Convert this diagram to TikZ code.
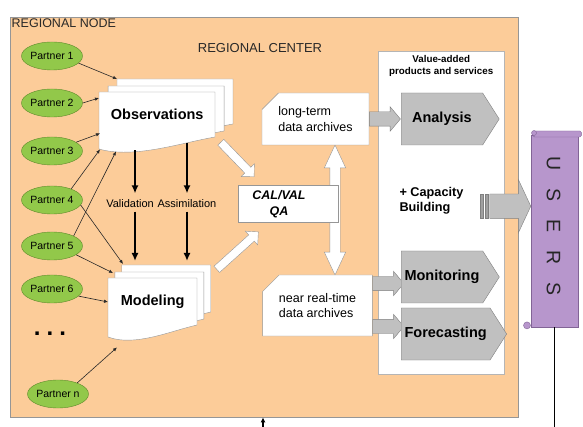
\documentclass[tikz,border=0pt]{standalone}
\usepackage{fontspec}
\setmainfont{Liberation Sans}
\usepackage{tikz}
\usetikzlibrary{arrows.meta, calc, positioning, shapes.arrows, shapes.geometric, shapes.misc, shapes.symbols}
\usepackage{xcolor}
\definecolor{NodeOrange}{RGB}{252,204,153}
\definecolor{FrameGray}{RGB}{150,150,150}
\definecolor{PartnerGreen}{RGB}{146,200,74}
\definecolor{PartnerEdge}{RGB}{94,138,42}
\definecolor{ProductGray}{RGB}{192,192,192}
\definecolor{ProductEdge}{RGB}{128,128,128}
\definecolor{StripeGray}{RGB}{160,160,160}
\definecolor{UserPurple}{RGB}{183,150,204}
\definecolor{UserEdge}{RGB}{130,100,150}
\definecolor{InkGray}{RGB}{40,40,40}
\newcommand{\setfs}[2]{\fontsize{#1}{#2}\selectfont}
% one page of a document stack, wavy bottom edge
\newcommand{\docsheet}[4]{%
  \draw [sheet] (#1,#2) -- ++(#3,0) -- ++(0,#4)
    .. controls +(-0.3*#3,6) and +(0.3*#3,10) .. ++(-#3,12) -- cycle;%
}
% three pages, the front one carries the named node
\newcommand{\docstack}[6]{%
  \docsheet{#2+0.155*#4}{#3-13}{#4}{#5}
  \docsheet{#2+0.078*#4}{#3-6}{#4}{#5}
  \docsheet{#2}{#3}{#4}{#5}
  \node [doctitle, minimum width=#4, minimum height=#5, anchor=north west] (#1) at (#2,#3) {#6};%
}
\tikzset{%
  region/.style={%
    rectangle,%
    draw=FrameGray,%
    fill=NodeOrange,%
  },
  heading/.style={%
    text=InkGray,%
    font={\setfs{12.5}{15}},%
  },
  panel/.style={%
    rectangle,%
    draw=FrameGray!70,%
    fill=white,%
  },
  partner/.style={%
    ellipse,%
    draw=PartnerEdge,%
    fill=PartnerGreen,%
    minimum width=56,%
    minimum height=28,%
    inner sep=0,%
    font={\setfs{10.5}{12}},%
  },
  sheet/.style={%
    draw=FrameGray,%
    fill=white,%
    line join=round,%
  },
  doctitle/.style={%
    inner sep=0,%
    font={\bfseries\setfs{14.5}{17}},%
  },
  midtext/.style={%
    font={\setfs{11}{13}},%
  },
  boldtext/.style={%
    font={\bfseries\setfs{12.7}{15}},%
    align=left,%
  },
  feed/.style={%
    single arrow,%
    draw=FrameGray,%
    fill=white,%
    inner xsep=0,%
    inner ysep=4,%
    single arrow head extend=5,%
    single arrow tip angle=90,%
  },
  link/.style={%
    double arrow,%
    draw=FrameGray,%
    fill=white,%
    inner xsep=0,%
    inner ysep=5,%
    double arrow head extend=5.5,%
    double arrow tip angle=50,%
  },
  calbox/.style={%
    rectangle,%
    draw=FrameGray,%
    fill=white,%
  },
  archive/.style={%
    chamfered rectangle,%
    chamfered rectangle corners=north west,%
    chamfered rectangle xsep=13,%
    draw=FrameGray,%
    fill=white,%
    align=left,%
    font={\setfs{12.5}{15.5}},%
  },
  product/.style={%
    signal,%
    signal to=east,%
    signal pointer angle=115,%
    draw=ProductEdge,%
    fill=ProductGray,%
    minimum height=52,%
    anchor=west,%
    font={\bfseries\setfs{14.5}{17}},%
  },
  push/.style={%
    single arrow,%
    draw=ProductEdge,%
    fill=ProductGray,%
    inner xsep=0,%
    inner ysep=7,%
    single arrow head extend=5,%
    single arrow tip angle=100,%
  },
  bigpush/.style={%
    push,%
    inner ysep=12,%
    single arrow head extend=14.5,%
    single arrow tip angle=130,%
  },
  stripe/.style={%
    rectangle,%
    draw=ProductEdge,%
    fill=StripeGray,%
    minimum width=3,%
    minimum height=24,%
    inner sep=0,%
  },
  scrollpart/.style={%
    draw=UserEdge,%
    fill=UserPurple,%
  },
  tie/.style={%
    color=InkGray,%
    line width=0.6,%
    -{Latex[length=4pt, width=3.5pt]},%
  },
  flow/.style={%
    color=black,%
    line width=1.6,%
    -{Latex[length=8pt, width=7pt]},%
  },
}

\begin{document}
\begin{tikzpicture}[x=1pt, y=-1pt]
  \useasboundingbox (0,0) rectangle (583,427);

  % regional node and center
  \node [region, anchor=north west, minimum width=508, minimum height=400] (Region) at (10,17) {};
  \node [heading, anchor=north west, inner sep=1.5] (NodeTitle) at (Region.north west) {REGIONAL NODE};
  \node [heading, font={\setfs{13}{15}}] (CenterTitle) at (260,48) {REGIONAL CENTER};

  % products panel
  \node [panel, anchor=north west, minimum width=126, minimum height=323] (Products) at (378,51) {};
  \node [font={\bfseries\setfs{9.8}{12}}, align=center, below=1pt of Products.north] (ProductsTitle)
    {Value-added\\products and services};
  \node [boldtext, anchor=west] (Capacity) at (396,201) {+ Capacity\\Building};

  % partners
  \foreach \n/\y in {1/56, 2/103, 3/151, 4/200, 5/246, 6/289}
    \node [partner] (P\n) at (52,\y) {Partner \n};
  \node [partner] (Pn) at (58,394) {Partner n};
  \node [font={\bfseries\setfs{24}{24}}, inner sep=0] (More) at (50,334) {.\hspace{6pt}.\hspace{6pt}.};

  % document stacks
  \docstack{Obs}{99}{92}{116}{45}{Observations}
  \docstack{Model}{108}{278}{89}{47}{Modeling}

  \draw [tie] (P1.-15) -- ([shift={(18,-13)}]Obs.north west);
  \draw [tie] (P2.east) -- ([shift={(0,6)}]Obs.north west);
  \draw [tie] (P3.20) -- ([shift={(1,-4)}]Obs.south west);
  \draw [tie] (P4.30) -- ([shift={(1,12)}]Obs.south west);
  \draw [tie] (P5.25) -- ([shift={(17,14)}]Obs.south west);
  \draw [tie] (P4.-10) -- ([shift={(15,-14)}]Model.north west);
  \draw [tie] (P5.-20) -- ([shift={(5,-5)}]Model.north west);
  \draw [tie] (P6.-15) -- ([shift={(0,24)}]Model.north west);
  \draw [tie] (Pn.30) -- ([shift={(9,22)}]Model.south west);

  % validation and assimilation
  \node [midtext] (Validation) at (130,204) {Validation};
  \node [midtext] (Assimilation) at (187,204) {Assimilation};
  \draw [flow, shorten >=3pt] ($(Obs.south -| Validation.north)+(5,13)$) -- ($(Validation.north)+(5,0)$);
  \draw [flow, shorten >=3pt] ($(Obs.south -| Assimilation.north)+(0,6)$) -- (Assimilation.north);
  \draw [flow] ($(Validation.south)+(5,0)$) -- ($(Model.north -| Validation.south)+(5,-17)$);
  \draw [flow] (Assimilation.south) -- ($(Model.north -| Assimilation.south)+(0,-17)$);

  % quality control
  \node [feed, rotate=-46, minimum height=48] (ObsFeed) at (236,158) {};
  \node [feed, rotate=42, minimum height=56] (ModelFeed) at (236,252) {};
  \node [link, rotate=90, minimum height=130] (Link) at (335,210) {};
  \node [calbox, minimum width=100, minimum height=37] (CalVal) at (288,203.5) {};
  \node [font={\bfseries\itshape\setfs{12.5}{16}}, align=center] (CalValText) at (279,204) {CAL/VAL\\QA};

  % archives
  \node [archive, minimum width=97, minimum height=52] (LongTerm) at (315.5,119) {long-term\\data archives};
  \node [archive, minimum width=93, minimum height=61] (NearRT) at (317.5,305.5) {near real-time\\data archives};

  % products, fed by the archives
  \node [push, anchor=tail, minimum height=31] (ToAnalysis) at (LongTerm.east) {};
  \node [push, anchor=tail, minimum height=31] (ToMonitoring) at ([yshift=22pt]NearRT.east) {};
  \node [push, anchor=tail, minimum height=31] (ToForecasting) at ([yshift=-21pt]NearRT.east) {};
  \node [product, minimum width=98] (Analysis) at (401,119) {Analysis};
  \node [product, minimum width=93] (Monitoring) at (401,277) {Monitoring};
  \node [product, minimum width=93] (Forecasting) at (401,334) {Forecasting};

  % users scroll
  \node [scrollpart, anchor=north west, minimum width=47, minimum height=192] (Users) at (531,135) {};
  \draw [scrollpart, rounded corners=1.5] ([shift={(2,-4)}]Users.north west) rectangle ([shift={(3,2)}]Users.north east);
  \draw [scrollpart] ([shift={(3,-2)}]Users.north west) circle [radius=2.5pt];
  \draw [scrollpart] ([shift={(-4,-2)}]Users.south west) circle [radius=3.5pt];
  \node [rotate=-90, font={\setfs{19.5}{20}}, text=black!85] (UsersLabel) at ([shift={(-1,-5)}]Users.center)
    {U\hspace{18pt}S\hspace{18pt}E\hspace{18pt}R\hspace{18pt}S};

  \node [bigpush, anchor=tip, minimum height=41] (ToUsers) at ([yshift=25pt]Users.west) {};
  \foreach \x [count=\i] in {481.5, 486.5}
    \node [stripe] (Stripe\i) at (\x,206) {};

  \coordinate (PageFoot) at (0,427);
  \coordinate (Uplink) at (263,427);
  \draw [black, line width=1.2] (Users.south) -- (Users.south |- PageFoot);
  \draw [black, line width=1.2, -{Latex[length=5pt, width=5pt]}] (Uplink) -- (Uplink |- Region.south);
\end{tikzpicture}
\end{document}
